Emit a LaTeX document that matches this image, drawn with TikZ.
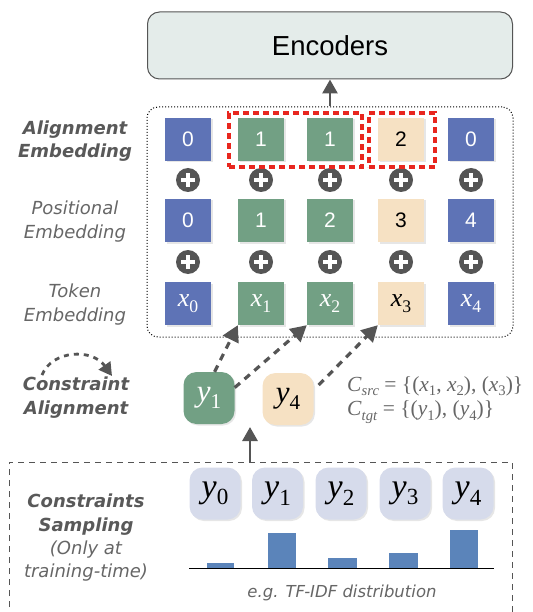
\documentclass[tikz,border=0pt]{standalone}
\usepackage{fontspec}
\usepackage{graphicx}
\setmainfont{Liberation Serif}
\newfontfamily\vsans{DejaVu Sans}
\newfontfamily\asans{Liberation Sans}
\usetikzlibrary{arrows.meta,shadows}
\definecolor{cblue}{HTML}{5E73B6}
\definecolor{cgreen}{HTML}{72A084}
\definecolor{cbeige}{HTML}{F6E1C3}
\definecolor{clav}{HTML}{D6DBEB}
\definecolor{cenc}{HTML}{E4ECEA}
\definecolor{cdark}{HTML}{555555}
\definecolor{cbar}{HTML}{5B84BA}
\definecolor{cred}{HTML}{E8261E}
\definecolor{clabel}{HTML}{595959}
\definecolor{clabl}{HTML}{666666}
\newcommand\mth[2]{\textit{#1}\raisebox{-0.22em}{\scalebox{0.68}{#2}}}
\tikzset{
  shd/.style={drop shadow={shadow xshift=1.5pt,shadow yshift=-1.5pt,opacity=0.2}},
  sq/.style={shd,minimum width=46pt,minimum height=43pt,inner sep=0pt,
    font=\asans\fontsize{21}{21}\selectfont},
  sqb/.style={sq,fill=cblue,text=white},
  sqg/.style={sq,fill=cgreen,text=white},
  sqy/.style={sq,fill=cbeige,text=black},
  tokfont/.style={font=\fontsize{26}{26}\selectfont},
  pluscirc/.style={circle,fill=cdark,minimum size=24pt,inner sep=0pt,
    path picture={
      \draw[white,line width=3.4pt] ([xshift=-7pt]path picture bounding box.center) -- ([xshift=7pt]path picture bounding box.center);
      \draw[white,line width=3.4pt] ([yshift=-7pt]path picture bounding box.center) -- ([yshift=7pt]path picture bounding box.center);}},
  lab/.style={align=center,text=clabl,font=\vsans\itshape\fontsize{18}{23.5}\selectfont},
  labb/.style={align=center,text=clabel,font=\vsans\bfseries\itshape\fontsize{18}{23.5}\selectfont},
  ysq/.style={shd,rounded corners=13pt,minimum width=51pt,minimum height=52pt,inner sep=0pt,
    font=\fontsize{34}{34}\selectfont},
  arr/.style={cdark,line width=2.8pt,-{Triangle[length=14pt,width=15pt]}},
  darr/.style={cdark,line width=3.2pt,dash pattern=on 7pt off 6pt,-{Triangle[length=16pt,width=17pt]}},
}
\begin{document}
\begin{tikzpicture}[x=1pt,y=-1pt]
\useasboundingbox (0,0) rectangle (532,612);
\clip (0,0) rectangle (532,612);
% Encoders
\node[draw=cdark,line width=1pt,fill=cenc,rounded corners=12pt,minimum width=365pt,minimum height=67pt,
  font=\asans\fontsize{27.5}{27.5}\selectfont] (enc) at (330,45.5) {Encoders};
% dotted box
\node[draw=black,dotted,line width=1pt,rounded corners=11pt,minimum width=366pt,minimum height=230pt] (emb) at (330,222) {};
\draw[arr] (emb.north) -- (enc.south);
% alignment row
\node[sqb] (a0) at (188,139.5) {0};
\node[sqg] (a1) at (261,139.5) {1};
\node[sqg] (a2) at (330,139.5) {1};
\node[sqy] (a3) at (401,139.5) {2};
\node[sqb] (a4) at (471,139.5) {0};
% positional row
\node[sqb] (p0) at (188,220.5) {0};
\node[sqg] (p1) at (261,220.5) {1};
\node[sqg] (p2) at (330,220.5) {2};
\node[sqy] (p3) at (401,220.5) {3};
\node[sqb] (p4) at (471,220.5) {4};
% token row
\node[sqb,tokfont] (t0) at (188,303.5) {\mth{x}{0}};
\node[sqg,tokfont] (t1) at (261,303.5) {\mth{x}{1}};
\node[sqg,tokfont] (t2) at (330,303.5) {\mth{x}{2}};
\node[sqy,tokfont] (t3) at (401,303.5) {\mth{x}{3}};
\node[sqb,tokfont] (t4) at (471,303.5) {\mth{x}{4}};
% plus circles
\foreach \i/\xx in {0/188,1/261,2/330,3/401,4/471}{
  \node[pluscirc] (pa\i) at (\xx,180) {};
  \node[pluscirc] (pb\i) at (\xx,262) {};
}
% red dashed boxes
\node[draw=cred,line width=3.2pt,dash pattern=on 6pt off 4pt,minimum width=133pt,minimum height=54pt,inner sep=0pt] (r1) at (295.5,140) {};
\node[draw=cred,line width=3.2pt,dash pattern=on 6pt off 4pt,minimum width=66pt,minimum height=54pt,inner sep=0pt] (r2) at (402,140) {};
% left labels
\node[labb] (lal) at (75,141) {Alignment\\Embedding};
\node[lab] (lpo) at (75,221.5) {Positional\\Embedding};
\node[lab] (lto) at (75,304.5) {Token\\Embedding};
\node[labb] (lca) at (76,397.5) {Constraint\\Alignment};
\node[labb] (lcs) at (86,514.5) {Constraints\\Sampling};
\node[lab] (lot) at (86,561) {(Only at\\training-time)};
% constraint alignment curved arrow
\coordinate (ca1) at (42,375);
\coordinate (ca2) at (112,376);
\draw[cdark,line width=2.8pt,dash pattern=on 5pt off 5pt,-{Triangle[length=13pt,width=14pt]}]
  (ca1) .. controls (52,350) and (92,348) .. (ca2);
% y1, y4
\node[ysq,fill=cgreen,text=white,font=\fontsize{31}{31}\selectfont] (y1) at (209,398) {\mth{y}{1}};
\node[ysq,fill=cbeige,text=black,font=\fontsize{31}{31}\selectfont] (y4) at (288,399) {\mth{y}{4}};
\draw[darr] (y1.78) -- (t1.south west);
\draw[darr] (y1.22) -- (t2.south west);
\draw[darr] ([xshift=5pt,yshift=2pt]y4.25) -- (t3.south west);
% C texts
\node[anchor=west,text=clabl,font=\fontsize{21.5}{21.5}\selectfont,inner sep=0pt] (csrc) at (347,386)
  {\mth{C}{\textit{src}} = \{(\mth{x}{1}, \mth{x}{2}), (\mth{x}{3})\}};
\node[anchor=west,text=clabl,font=\fontsize{21.5}{21.5}\selectfont,inner sep=0pt] (ctgt) at (347,412)
  {\mth{C}{\textit{tgt}} = \{(\mth{y}{1}), (\mth{y}{4})\}};
% bottom dashed box
\draw[cdark,line width=1pt,dash pattern=on 6pt off 5pt] (9,640) -- (9,462) -- (512,462) -- (512,640);
\coordinate (bt) at (250,462);
\draw[arr] (bt) -- (250,427);
% lavender y nodes
\node[ysq,fill=clav,text=black] (s0) at (215,493.5) {\mth{y}{0}};
\node[ysq,fill=clav,text=black] (s1) at (277.5,493.5) {\mth{y}{1}};
\node[ysq,fill=clav,text=black] (s2) at (341,493.5) {\mth{y}{2}};
\node[ysq,fill=clav,text=black] (s3) at (405,493.5) {\mth{y}{3}};
\node[ysq,fill=clav,text=black] (s4) at (468,493.5) {\mth{y}{4}};
% bars
\fill[cbar] (207,568) rectangle (234,563);
\fill[cbar] (268,568) rectangle (296,533);
\fill[cbar] (328,568) rectangle (357,558);
\fill[cbar] (389,568) rectangle (418,553);
\fill[cbar] (450,568) rectangle (478,530);
\draw[black,line width=1pt] (189,568) -- (494,568);
\node[text=clabl,font=\vsans\itshape\fontsize{16.5}{16.5}\selectfont] (tfidf) at (342,593) {e.g. TF-IDF distribution};
\end{tikzpicture}
\end{document}
